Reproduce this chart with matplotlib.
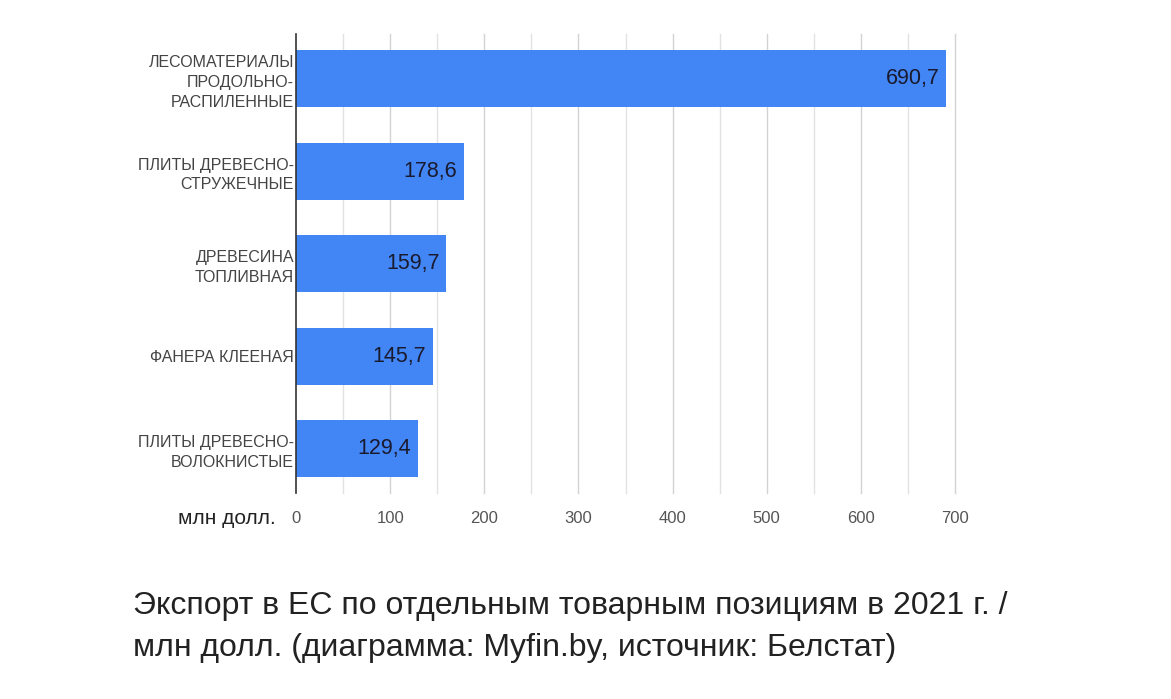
import matplotlib
matplotlib.use("Agg")
import matplotlib.pyplot as plt
import numpy as np

categories = [
    "ЛЕСОМАТЕРИАЛЫ\nПРОДОЛЬНО-\nРАСПИЛЕННЫЕ",
    "ПЛИТЫ ДРЕВЕСНО-\nСТРУЖЕЧНЫЕ",
    "ДРЕВЕСИНА\nТОПЛИВНАЯ",
    "ФАНЕРА КЛЕЕНАЯ",
    "ПЛИТЫ ДРЕВЕСНО-\nВОЛОКНИСТЫЕ",
]
values = [690.7, 178.6, 159.7, 145.7, 129.4]
value_labels = ["690,7", "178,6", "159,7", "145,7", "129,4"]
xticks = [0, 100, 200, 300, 400, 500, 600, 700]
axis_unit = "млн долл."
caption = ("Экспорт в ЕС по отдельным товарным позициям в 2021 г. /\n"
           "млн долл. (диаграмма: Myfin.by, источник: Белстат)")

plt.rcParams['font.family'] = ['Liberation Sans', 'DejaVu Sans']

W, H = 1171, 699
fig = plt.figure(figsize=(W / 100, H / 100), dpi=100)
ax = fig.add_axes([296 / W, 1 - 493 / H, (955 - 296) / W, (493 - 34) / H])

y = np.arange(len(categories))
ax.barh(y, values, height=0.616, color="#4285F4", zorder=3)
ax.set_ylim(len(categories) - 1 + 0.476, -0.48)
ax.set_xlim(0, 700)

# grid
for gx in np.arange(50, 701, 50):
    ax.axvline(gx, color="#d2d2d2" if gx % 100 == 0 else "#e2e2e2", lw=1,
               zorder=1, clip_on=False)
for s in ["top", "right", "bottom"]:
    ax.spines[s].set_visible(False)
ax.spines["left"].set_color("#333333")
ax.spines["left"].set_linewidth(1.2)
ax.spines["left"].set_zorder(4)

ax.set_yticks(y)
ax.set_yticklabels(categories, fontsize=11.5, color="#444444", linespacing=1.4)
ax.tick_params(axis="y", length=0, pad=1.5)
ax.set_xticks(xticks)
ax.set_xticklabels([str(t) for t in xticks], fontsize=12, color="#555555")
ax.tick_params(axis="x", length=0, pad=13)

for yi, v, lab in zip(y, values, value_labels):
    ax.annotate(lab, (v, yi), xytext=(-5, 0), textcoords="offset points",
                ha="right", va="center", fontsize=15.5, color="#1a1a2e", zorder=5)

fig.text(276 / W, 1 - 518 / H, axis_unit, ha="right", va="center",
         fontsize=15, color="#222222")

fig.text(133 / W, 1 - 627 / H, caption, ha="left", va="center",
         fontsize=23, color="#222222", linespacing=1.55)

fig.savefig("out.png", dpi=100)
